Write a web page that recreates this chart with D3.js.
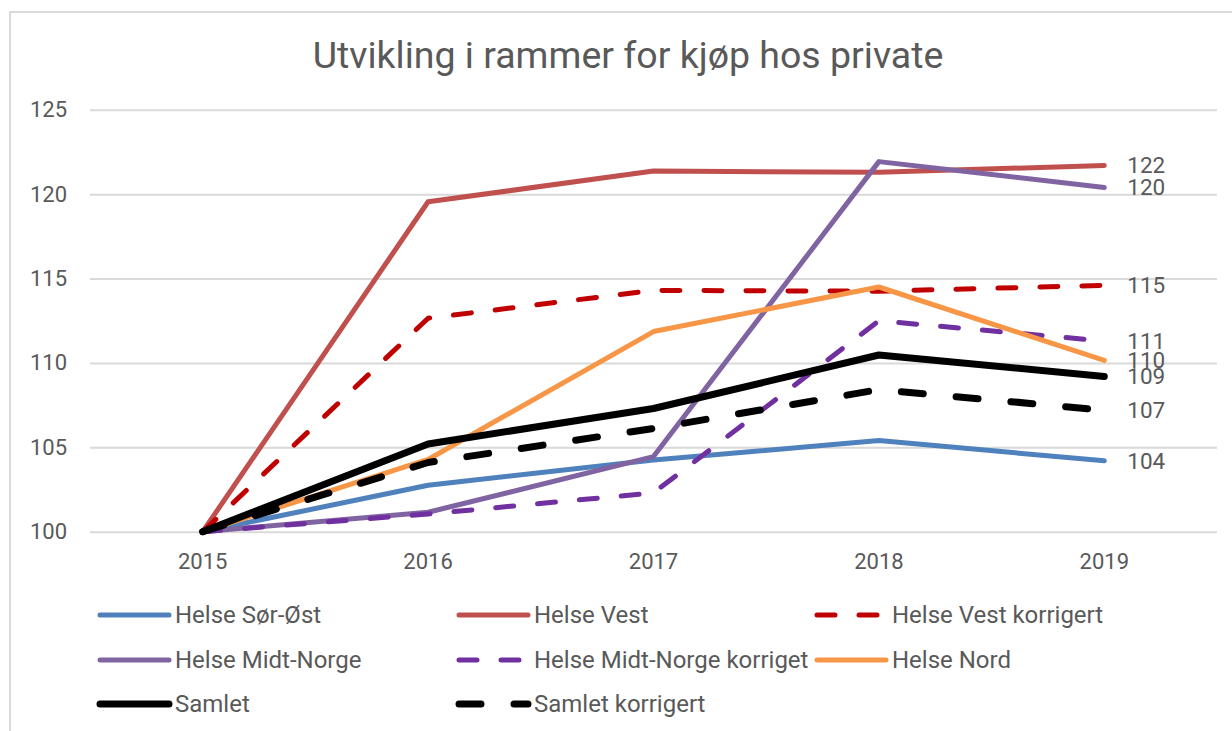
<!DOCTYPE html>
<html>
<head>
<meta charset="utf-8">
<script src="https://cdn.jsdelivr.net/npm/d3@7"></script>
<style>
  html, body { margin: 0; padding: 0; background: #fff; }
  svg { display: block; font-family: Roboto, "Noto Sans", sans-serif; }
</style>
</head>
<body>
<svg id="chart" width="1232" height="731"></svg>
<script>
const years = ["2015", "2016", "2017", "2018", "2019"];
const yTicks = [100, 105, 110, 115, 120, 125];

const seriesNames = [
  "Helse Sør-Øst", "Helse Vest", "Helse Vest korrigert",
  "Helse Midt-Norge", "Helse Midt-Norge korriget", "Helse Nord",
  "Samlet", "Samlet korrigert"
];
const helseSorOst        = [100, 102.75, 104.25, 105.4, 104.2];
const helseVest          = [100, 119.55, 121.37, 121.3, 121.7];
const helseVestKorr      = [100, 112.65, 114.3, 114.25, 114.6];
const helseMidtNorge     = [100, 101.15, 104.45, 121.93, 120.4];
const helseMidtNorgeKorr = [100, 101.05, 102.3, 112.5, 111.3];
const helseNord          = [100, 104.28, 111.86, 114.5, 110.15];
const samlet             = [100, 105.2, 107.3, 110.47, 109.2];
const samletKorr         = [100, 104.1, 106.12, 108.42, 107.2];
const endLabels = ["104", "122", "115", "120", "111", "110", "109", "107"];

const seriesValues = [helseSorOst, helseVest, helseVestKorr, helseMidtNorge,
  helseMidtNorgeKorr, helseNord, samlet, samletKorr];
const styles = [
  { color: "#4F81BD", w: 5, dash: null },
  { color: "#C0504D", w: 5, dash: null },
  { color: "#C00000", w: 5, dash: "18,24" },
  { color: "#8064A2", w: 5, dash: null },
  { color: "#7030A0", w: 5, dash: "18,24" },
  { color: "#F79646", w: 5, dash: null },
  { color: "#000000", w: 7, dash: null },
  { color: "#000000", w: 7, dash: "22,33" }
];

const svg = d3.select("#chart");
const textColor = "#595959";
const gridColor = "#d9d9d9";

// frame
svg.append("rect").attr("x", 10).attr("y", 12).attr("width", 1240).attr("height", 740)
  .attr("fill", "none").attr("stroke", gridColor).attr("stroke-width", 2);

// title
svg.append("text").attr("x", 628).attr("y", 68).attr("text-anchor", "middle")
  .attr("fill", textColor).attr("font-size", 37.5).text("Utvikling i rammer for kjøp hos private");

const plotLeft = 90, plotRight = 1217, plotTop = 109.8, plotBottom = 531.7;
const x = d3.scaleBand().domain(years).range([plotLeft, plotRight]).paddingInner(0).paddingOuter(0);
const xc = d => x(d) + x.bandwidth() / 2;
const y = d3.scaleLinear().domain([100, 125]).range([plotBottom, plotTop]);

// gridlines
const grid = svg.append("g").attr("transform", `translate(${plotLeft},0)`)
  .call(d3.axisLeft(y).tickValues(yTicks).tickSize(-(plotRight - plotLeft)).tickFormat(""));
grid.select(".domain").remove();
grid.selectAll("line").attr("stroke", gridColor).attr("stroke-width", 2);

// y axis labels
const yAxis = svg.append("g").attr("transform", `translate(${plotLeft},0)`)
  .call(d3.axisLeft(y).tickValues(yTicks).tickSize(0).tickPadding(23).tickFormat(d3.format("d")));
yAxis.select(".domain").remove();
yAxis.selectAll("text").attr("fill", textColor).attr("font-size", 22).attr("font-family", "Roboto");

// x axis labels
const xAxis = svg.append("g").attr("transform", `translate(0,${plotBottom})`)
  .call(d3.axisBottom(x).tickSize(0).tickPadding(22));
xAxis.select(".domain").remove();
xAxis.selectAll("text").attr("fill", textColor).attr("font-size", 22).attr("font-family", "Roboto");

// lines
const line = d3.line().x((d, i) => xc(years[i])).y(d => y(d));
seriesValues.forEach((vals, k) => {
  const s = styles[k];
  svg.append("path").datum(vals).attr("d", line)
    .attr("fill", "none").attr("stroke", s.color).attr("stroke-width", s.w)
    .attr("stroke-linecap", "round").attr("stroke-linejoin", "round")
    .attr("stroke-dasharray", s.dash);
});

// end labels
seriesValues.forEach((vals, k) => {
  svg.append("text").attr("x", xc(years[years.length - 1]) + 23)
    .attr("y", y(vals[vals.length - 1])).attr("dy", "0.35em")
    .attr("fill", textColor).attr("font-size", 22.5).text(endLabels[k]);
});

// legend
const colX = [98, 457, 815];
const rowY = [615, 660, 704];
seriesNames.forEach((name, k) => {
  const s = styles[k];
  const cx = colX[k % 3], cy = rowY[Math.floor(k / 3)];
  const g = svg.append("g");
  g.append("line").attr("x1", cx + 2).attr("x2", cx + 71).attr("y1", cy).attr("y2", cy)
    .attr("stroke", s.color).attr("stroke-width", s.w).attr("stroke-linecap", "round")
    .attr("stroke-dasharray", s.dash);
  g.append("text").attr("x", cx + 77).attr("y", cy).attr("dy", "0.35em")
    .attr("fill", textColor).attr("font-size", 24).text(name);
});
</script>
</body>
</html>
